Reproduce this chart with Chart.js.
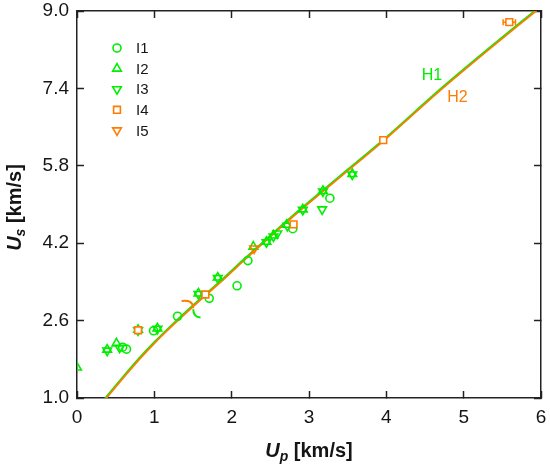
<!DOCTYPE html>
<html>
<head>
<meta charset="utf-8">
<script src="https://cdn.jsdelivr.net/npm/chart.js@4.4.1/dist/chart.umd.min.js"></script>
<style>
  html, body { margin: 0; padding: 0; background: #fff; }
  #wrap { width: 550px; height: 466px; }
</style>
</head>
<body>
<div id="wrap"><canvas id="hugoniot" width="550" height="466"></canvas></div>
<script>
// axis ticks
const xTicks = [0, 1, 2, 3, 4, 5, 6];
const yTicks = [1.0, 2.6, 4.2, 5.8, 7.4, 9.0];

// measured points, Up / Us in km/s
const i1Up = [0.59, 0.64, 0.99, 1.30, 1.71, 2.07, 2.21, 2.79, 3.27];
const i1Us = [2.05, 2.01, 2.39, 2.69, 3.06, 3.32, 3.84, 4.50, 5.13];

const i2Up = [0.00, 0.39, 0.51, 0.79, 1.04, 1.57, 1.82, 2.28, 2.45, 2.54, 2.71, 2.92, 3.18, 3.56];
const i2Us = [1.63, 2.00, 2.13, 2.41, 2.44, 3.16, 3.49, 4.13, 4.23, 4.36, 4.58, 4.90, 5.28, 5.63];

const i3Up = [0.39, 0.55, 0.79, 1.04, 1.57, 1.82, 2.45, 2.54, 2.59, 2.72, 2.92, 3.17, 3.18, 3.56];
const i3Us = [1.98, 2.04, 2.40, 2.43, 3.15, 3.48, 4.22, 4.34, 4.40, 4.56, 4.89, 4.90, 5.27, 5.62];

const i4Up = [0.79, 1.66, 2.80, 3.96, 5.59];
const i4Us = [2.40, 3.14, 4.59, 6.33, 8.77];
const i4UpErr = [0, 0, 0, 0, 0.08];

const i5Up = [2.29];
const i5Us = [4.09];

// fitted Hugoniots
const h1Up = [0.36, 0.60, 0.80, 1.00, 1.25, 1.50, 1.90, 2.15, 2.75, 3.36, 3.96, 4.69, 5.30, 5.92, 6.05];
const h1Us = [0.98, 1.44, 1.81, 2.15, 2.54, 2.91, 3.48, 3.85, 4.71, 5.53, 6.33, 7.37, 8.19, 9.00, 9.17];
const h2Up = [0.36, 0.60, 0.80, 1.00, 1.25, 1.50, 1.90, 2.15, 2.75, 3.36, 3.96, 4.69, 5.30, 5.92, 6.05];
const h2Us = [0.96, 1.42, 1.79, 2.13, 2.52, 2.89, 3.46, 3.83, 4.69, 5.51, 6.31, 7.35, 8.17, 8.98, 9.15];

// brace mark between the fits (Up, Us)
const braceTop = [[1.353, 3.007], [1.499, 3.042], [1.503, 2.856]];
const braceBottom = [[1.503, 2.835], [1.505, 2.67], [1.598, 2.664]];

const GREEN = '#00ee00';
const ORANGE = '#ff7c00';
const INK = '#151515';
const FONT = "'Liberation Sans', Arial, sans-serif";

const pairs = (xs, ys) => xs.map((x, i) => ({ x: x, y: ys[i] }));

// in-plot legend, like the original figure
const plotLegend = {
    id: 'plotLegend',
    afterDraw(chart) {
        const { ctx, chartArea } = chart;
        const items = chart.data.datasets.filter(d => !d.showLine);
        ctx.save();
        ctx.font = '15px ' + FONT;
        ctx.textBaseline = 'middle';
        items.forEach((ds, i) => {
            const x = chartArea.left + 40;
            const y = chartArea.top + 37 + i * 20.6;
            ctx.lineWidth = ds.pointBorderWidth;
            ctx.strokeStyle = ds.borderColor;
            ctx.fillStyle = ds.backgroundColor;
            Chart.helpers.drawPoint(ctx, {
                pointStyle: ds.pointStyle,
                radius: ds.pointRadius,
                rotation: ds.pointRotation || 0,
                borderWidth: ds.pointBorderWidth,
            }, x, y);
            ctx.fillStyle = INK;
            ctx.fillText(ds.label, x + 19, y + 1);
        });
        ctx.restore();
    },
};

// axis titles with italic U and subscripts
function drawTitle(ctx, parts, x, y, rotate) {
    ctx.save();
    ctx.translate(x, y);
    if (rotate) ctx.rotate(-Math.PI / 2);
    let total = 0;
    parts.forEach(p => { ctx.font = p.font; total += ctx.measureText(p.text).width; });
    let cx = -total / 2;
    ctx.fillStyle = INK;
    ctx.textBaseline = 'alphabetic';
    parts.forEach(p => {
        ctx.font = p.font;
        ctx.fillText(p.text, cx, p.dy);
        cx += ctx.measureText(p.text).width;
    });
    ctx.restore();
}

const axisTitles = {
    id: 'axisTitles',
    afterDraw(chart) {
        const { ctx, chartArea } = chart;
        const big = 'bold italic 20px ' + FONT;
        const sub = 'bold italic 14px ' + FONT;
        const unit = 'bold 20px ' + FONT;
        drawTitle(ctx, [
            { text: 'U', font: big, dy: 0 },
            { text: 'p', font: sub, dy: 4 },
            { text: ' [km/s]', font: unit, dy: 0 },
        ], (chartArea.left + chartArea.right) / 2, 457, false);
        drawTitle(ctx, [
            { text: 'U', font: big, dy: 0 },
            { text: 's', font: sub, dy: 4 },
            { text: ' [km/s]', font: unit, dy: 0 },
        ], 21, (chartArea.top + chartArea.bottom) / 2 + 3, true);
    },
};

// error bars, brace and fit labels
const extras = {
    id: 'extras',
    beforeDatasetsDraw(chart) {
        const { ctx } = chart;
        const xs = chart.scales.x, ys = chart.scales.y;
        ctx.save();
        ctx.strokeStyle = ORANGE;
        ctx.lineWidth = 1.5;
        i4Up.forEach((u, i) => {
            const e = i4UpErr[i];
            if (!e) return;
            const y = ys.getPixelForValue(i4Us[i]);
            const x0 = xs.getPixelForValue(u - e), x1 = xs.getPixelForValue(u + e);
            ctx.beginPath();
            ctx.moveTo(x0, y); ctx.lineTo(x1, y);
            ctx.moveTo(x0, y - 3); ctx.lineTo(x0, y + 3);
            ctx.moveTo(x1, y - 3); ctx.lineTo(x1, y + 3);
            ctx.stroke();
        });
        ctx.restore();
    },
    afterDatasetsDraw(chart) {
        const { ctx } = chart;
        const xs = chart.scales.x, ys = chart.scales.y;
        const pt = p => [xs.getPixelForValue(p[0]), ys.getPixelForValue(p[1])];
        const curve = (pts, color) => {
            const [a, c, b] = pts.map(pt);
            ctx.beginPath();
            ctx.moveTo(a[0], a[1]);
            ctx.quadraticCurveTo(c[0], c[1], b[0], b[1]);
            ctx.strokeStyle = color;
            ctx.stroke();
        };
        ctx.save();
        ctx.lineWidth = 2;
        curve(braceTop, ORANGE);
        curve(braceBottom, GREEN);

        ctx.font = '16px ' + FONT;
        ctx.textAlign = 'center';
        ctx.textBaseline = 'middle';
        ctx.fillStyle = GREEN;
        ctx.fillText('H1', xs.getPixelForValue(4.59), ys.getPixelForValue(7.66));
        ctx.fillStyle = ORANGE;
        ctx.fillText('H2', xs.getPixelForValue(4.92), ys.getPixelForValue(7.20));
        ctx.restore();
    },
};

const frameGrid = {
    drawOnChartArea: false,
    drawTicks: true,
    tickLength: -7,
    tickWidth: 1.5,
    tickColor: '#222',
};
const frameBorder = { display: true, color: '#222', width: 1.5 };

// fixed box sizes so the plot area sits where the original one does
const fixBox = (w, h) => s => {
    if (w !== null) s.width = w;
    if (h !== null) s.height = h;
    s.paddingLeft = s.paddingRight = s.paddingTop = s.paddingBottom = 0;
};

const ctx = document.getElementById('hugoniot').getContext('2d');
new Chart(ctx, {
    type: 'scatter',
    data: {
        datasets: [
            {
                label: 'I1', data: pairs(i1Up, i1Us),
                pointStyle: 'circle', pointRadius: 4, pointBorderWidth: 1.6,
                borderColor: GREEN, backgroundColor: 'rgba(0,0,0,0)', order: 2,
            },
            {
                label: 'I2', data: pairs(i2Up, i2Us),
                pointStyle: 'triangle', pointRadius: 5, pointBorderWidth: 1.6,
                borderColor: GREEN, backgroundColor: 'rgba(0,0,0,0)', order: 3,
            },
            {
                label: 'I3', data: pairs(i3Up, i3Us),
                pointStyle: 'triangle', pointRotation: 180, pointRadius: 5, pointBorderWidth: 1.6,
                borderColor: GREEN, backgroundColor: 'rgba(0,0,0,0)', order: 4,
            },
            {
                label: 'I4', data: pairs(i4Up, i4Us),
                pointStyle: 'rect', pointRadius: 4.8, pointBorderWidth: 1.6,
                borderColor: ORANGE, backgroundColor: '#ffffff', order: 0,
            },
            {
                label: 'I5', data: pairs(i5Up, i5Us),
                pointStyle: 'triangle', pointRotation: 180, pointRadius: 5, pointBorderWidth: 1.6,
                borderColor: ORANGE, backgroundColor: 'rgba(0,0,0,0)', order: 1,
            },
            {
                label: 'H2', data: pairs(h2Up, h2Us), showLine: true,
                pointRadius: 0, borderColor: ORANGE, borderWidth: 1.8,
                cubicInterpolationMode: 'monotone', order: 5,
            },
            {
                label: 'H1', data: pairs(h1Up, h1Us), showLine: true,
                pointRadius: 0, borderColor: GREEN, borderWidth: 2.2,
                cubicInterpolationMode: 'monotone', order: 6,
            },
        ],
    },
    options: {
        responsive: false,
        animation: false,
        events: [],
        layout: { padding: 0 },
        plugins: {
            legend: { display: false },
            tooltip: { enabled: false },
        },
        scales: {
            x: {
                type: 'linear', position: 'bottom', min: 0, max: 6,
                afterBuildTicks: s => { s.ticks = xTicks.map(v => ({ value: v })); },
                afterFit: fixBox(null, 68),
                ticks: {
                    padding: 15, color: INK, font: { family: FONT, size: 19 },
                    callback: v => String(v),
                },
                grid: frameGrid, border: frameBorder,
            },
            y: {
                type: 'linear', position: 'left', min: 1, max: 9,
                afterBuildTicks: s => { s.ticks = yTicks.map(v => ({ value: v })); },
                afterFit: fixBox(77, null),
                ticks: {
                    padding: 15, color: INK, font: { family: FONT, size: 19 },
                    callback: v => v.toFixed(1),
                },
                grid: frameGrid, border: frameBorder,
            },
            x2: {
                type: 'linear', position: 'top', min: 0, max: 6,
                afterBuildTicks: s => { s.ticks = xTicks.map(v => ({ value: v })); },
                afterFit: fixBox(null, 11),
                ticks: { display: false },
                grid: frameGrid, border: frameBorder,
            },
            y2: {
                type: 'linear', position: 'right', min: 1, max: 9,
                afterBuildTicks: s => { s.ticks = yTicks.map(v => ({ value: v })); },
                afterFit: fixBox(9, null),
                ticks: { display: false },
                grid: frameGrid, border: frameBorder,
            },
        },
    },
    plugins: [extras, plotLegend, axisTitles],
});
</script>
</body>
</html>
